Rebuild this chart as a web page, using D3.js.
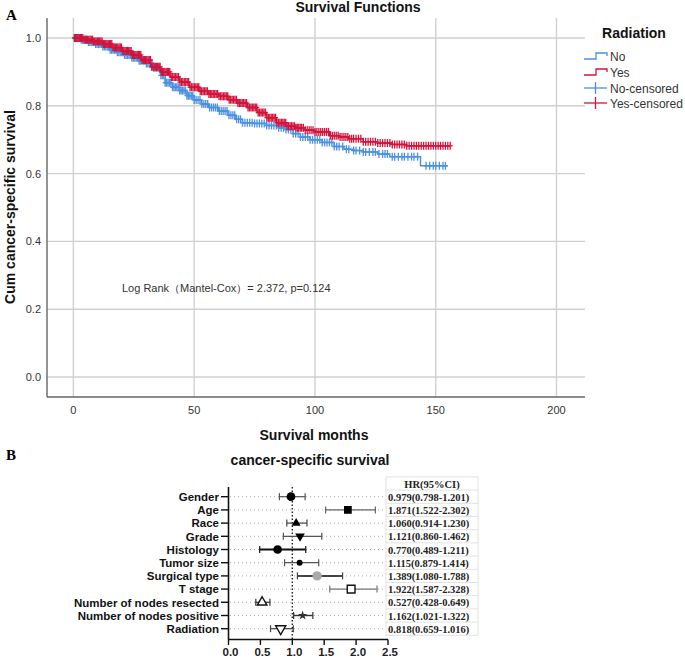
<!DOCTYPE html>
<html><head><meta charset="utf-8">
<script src="https://cdn.jsdelivr.net/npm/d3@7"></script>
<style>body{margin:0;background:#fff}svg{display:block}</style>
</head><body>
<svg id="c" width="685" height="658"></svg>
<script>
// ---------- Panel A data ----------
const xTicks = [0, 50, 100, 150, 200];
const yTicks = [0.0, 0.2, 0.4, 0.6, 0.8, 1.0];
const noTimes = [0,3,6,9,12,15,18,21,24,27,30,33,36,38,41,44,47,50,53,56,60,64,67,70,75,80,85,88,91,94,98,103,108,112,116,120,126,131,143.7];
const noSurv  = [1.0,0.995,0.988,0.982,0.975,0.965,0.958,0.950,0.942,0.933,0.925,0.912,0.890,0.868,0.855,0.845,0.830,0.817,0.805,0.795,0.785,0.772,0.760,0.750,0.748,0.742,0.735,0.730,0.718,0.708,0.700,0.692,0.680,0.672,0.668,0.664,0.658,0.650,0.623];
const noEnd = 155;
const yesTimes = [0,4,8,12,16,20,24,28,32,36,40,44,48,52,56,60,64,68,72,76,80,84,88,92,96,100,106,110,114,120,126,132,138];
const yesSurv  = [1.0,0.995,0.990,0.982,0.972,0.962,0.950,0.935,0.915,0.900,0.885,0.870,0.855,0.843,0.835,0.828,0.818,0.808,0.795,0.780,0.765,0.750,0.740,0.735,0.728,0.723,0.712,0.708,0.703,0.694,0.690,0.686,0.682];
const yesEnd = 156;
const noCensor = [0.5,1,1.5,2,2.6,3.2,3.8,4.4,5,5.6,6.2,6.8,7.4,8,8.6,9.2,9.8,10.4,11,11.6,12.2,12.8,13.4,14,14.6,15.2,15.8,16.4,17,17.6,18.2,18.8,19.4,20,20.6,21.2,21.8,22.4,23,23.6,24.2,24.8,25.4,26,26.6,27.2,27.8,28.4,29,29.6,30.2,30.8,31.4,32,32.6,33.2,33.8,34.4,35,35.6,36.2,36.8,37.4,38,38.6,39.2,39.8,40.4,41,41.6,42.2,42.8,43.4,44,44.6,45.2,45.8,46.4,47,47.6,48.2,48.8,49.4,50,50.8,51.6,52.4,53.2,54,54.8,55.6,56.4,57.2,58,58.8,59.6,60.4,61.2,62,62.8,63.6,64.4,65.2,66,66.8,67.6,68.4,69.2,70,71,72,73,74,75,76,77,78,79,80,81,82,83,84,85,86,87,88,89,90,91,92,93,94,95,96,97,98,99,100,101,102,103,104,105,106,107,108,109,110,111.5,113,114,116,117,118.5,120,121,122.5,124,125,126.5,128,129,130,132,133,134.5,136,137,138.5,140,141,142.5,146,147.5,149,150,151.5,153,154];
const yesCensor = [0.4,0.9,1.4,1.9,2.4,2.9,3.4,3.9,4.4,4.9,5.4,5.9,6.4,6.9,7.4,7.9,8.4,8.9,9.4,9.9,10.4,10.9,11.4,11.9,12.4,12.9,13.4,13.9,14.4,14.9,15.4,15.9,16.4,16.9,17.4,17.9,18.4,18.9,19.4,19.9,20.4,20.9,21.4,21.9,22.4,22.9,23.4,23.9,24.4,24.9,25.4,25.9,26.4,26.9,27.4,27.9,28.4,28.9,29.4,29.9,30.4,30.9,31.4,31.9,32.4,32.9,33.4,33.9,34.4,34.9,35.4,35.9,36.4,36.9,37.4,37.9,38.4,38.9,39.4,39.9,40.5,41.1,41.7,42.3,42.9,43.5,44.1,44.7,45.3,45.9,46.5,47.1,47.7,48.3,48.9,49.5,50.1,50.7,51.3,51.9,52.5,53.1,53.7,54.3,54.9,55.5,56.1,56.7,57.3,57.9,58.5,59.1,59.7,60.3,60.9,61.5,62.1,62.7,63.3,63.9,64.5,65.1,65.7,66.3,66.9,67.5,68.1,68.7,69.3,69.9,70.5,71.1,71.7,72.3,72.9,73.5,74.1,74.7,75.3,75.9,76.5,77.1,77.7,78.3,78.9,79.5,80.1,80.7,81.3,81.9,82.5,83.1,83.7,84.3,84.9,85.5,86.1,86.7,87.3,87.9,88.5,89.1,89.7,90.3,90.9,91.5,92.1,92.7,93.3,93.9,94.5,95.2,96,96.8,97.6,98.4,99.2,100,100.8,101.6,102.4,103.2,104,104.8,105.6,106.4,107.2,108,108.8,109.6,110.4,111.2,112,112.8,113.6,114.4,115.2,116,117,118,119,120,121,122,123,124,125,126,127,128,129,130,131,132,133,134,135,136,137,138,139,140,141,142,143,144,145,146,147,148,149,150,151,152,153,154,155,156];
const legendLabels = ["No", "Yes", "No-censored", "Yes-censored"];

// ---------- Panel B data ----------
const fLabels = ["Gender","Age","Race","Grade","Histology","Tumor size","Surgical type","T stage","Number of nodes resected","Number of nodes positive","Radiation"];
const fHR = [0.979,1.871,1.060,1.121,0.770,1.115,1.389,1.922,0.527,1.162,0.818];
const fLo = [0.798,1.522,0.914,0.860,0.489,0.879,1.080,1.587,0.428,1.021,0.659];
const fHi = [1.201,2.302,1.230,1.462,1.211,1.414,1.788,2.328,0.649,1.322,1.016];
const fText = ["0.979(0.798-1.201)","1.871(1.522-2.302)","1.060(0.914-1.230)","1.121(0.860-1.462)","0.770(0.489-1.211)","1.115(0.879-1.414)","1.389(1.080-1.788)","1.922(1.587-2.328)","0.527(0.428-0.649)","1.162(1.021-1.322)","0.818(0.659-1.016)"];
const fTicks = [0.0,0.5,1.0,1.5,2.0,2.5];

const svg = d3.select("#c");
const font = "'Liberation Sans', Arial, sans-serif";
const blue = "#4a90e2", red = "#d2143c";

// ================= Panel A =================
const x = d3.scaleLinear().domain([0,200]).range([73.4,556.5]);
const y = d3.scaleLinear().domain([0,1]).range([377,38]);
const L = 47, R = 585, T = 18, B = 397;

svg.append("text").attr("x",6).attr("y",20).text("A")
  .attr("font-family","'Liberation Serif', 'Times New Roman', serif").attr("font-weight","bold").attr("font-size",15);
svg.append("text").attr("x",358).attr("y",12).attr("text-anchor","middle").text("Survival Functions")
  .attr("font-family",font).attr("font-weight","bold").attr("font-size",14).attr("fill","#111");

const g = svg.append("g");
g.selectAll(".hg").data(yTicks).join("line").attr("x1",L).attr("x2",R)
  .attr("y1",d=>y(d)).attr("y2",d=>y(d)).attr("stroke","#d0d0d0").attr("stroke-width",1.4);
g.selectAll(".vg").data(xTicks).join("line").attr("y1",T).attr("y2",B)
  .attr("x1",d=>x(d)).attr("x2",d=>x(d)).attr("stroke","#d0d0d0").attr("stroke-width",1.4);
g.append("line").attr("x1",L).attr("x2",L).attr("y1",T).attr("y2",B).attr("stroke","#666").attr("stroke-width",1.4);
g.append("line").attr("x1",L).attr("x2",R).attr("y1",B).attr("y2",B).attr("stroke","#666").attr("stroke-width",1.4);

g.selectAll(".yl").data(yTicks).join("text").attr("x",41).attr("y",d=>y(d)+4)
  .attr("text-anchor","end").text(d=>d3.format(".1f")(d))
  .attr("font-family",font).attr("font-size",11).attr("fill","#333");
g.selectAll(".xl").data(xTicks).join("text").attr("x",d=>x(d)).attr("y",414)
  .attr("text-anchor","middle").text(d=>d)
  .attr("font-family",font).attr("font-size",11).attr("fill","#333");

svg.append("text").attr("transform","translate(15,207) rotate(-90)").attr("text-anchor","middle")
  .text("Cum cancer-specific survival").attr("font-family",font).attr("font-weight","bold").attr("font-size",14).attr("fill","#111");
svg.append("text").attr("x",314).attr("y",440).attr("text-anchor","middle")
  .text("Survival months").attr("font-family",font).attr("font-weight","bold").attr("font-size",14).attr("fill","#111");

svg.append("text").attr("x",122).attr("y",292).text("Log Rank（Mantel-Cox）= 2.372, p=0.124")
  .attr("font-family",font).attr("font-size",11).attr("fill","#333");

function survAt(times, surv, t){ const i = d3.bisectRight(times, t) - 1; return surv[Math.max(0,i)]; }
function stepData(times, surv, end){ const d = times.map((t,i)=>[t,surv[i]]); d.push([end, surv[surv.length-1]]); return d; }
const line = d3.line().x(d=>x(d[0])).y(d=>y(d[1])).curve(d3.curveStepAfter);

function drawCurve(times, surv, end, cens, col){
  g.append("path").datum(stepData(times,surv,end)).attr("d",line).attr("fill","none").attr("stroke",col).attr("stroke-width",1.5);
  const cg = g.append("g");
  cens.forEach(t=>{
    const cx = x(t), cy = y(survAt(times,surv,t));
    cg.append("line").attr("x1",cx).attr("x2",cx).attr("y1",cy-4).attr("y2",cy+4).attr("stroke",col).attr("stroke-width",1.3);
    cg.append("line").attr("x1",cx-2.5).attr("x2",cx+2.5).attr("y1",cy).attr("y2",cy).attr("stroke",col).attr("stroke-width",1.3);
  });
}
drawCurve(noTimes,noSurv,noEnd,noCensor,blue);
drawCurve(yesTimes,yesSurv,yesEnd,yesCensor,red);

// legend
svg.append("text").attr("x",634).attr("y",38).attr("text-anchor","middle").text("Radiation")
  .attr("font-family",font).attr("font-weight","bold").attr("font-size",14).attr("fill","#111");
const legY = [56,72,88,103];
const legCol = [blue, red, blue, red];
legendLabels.forEach((lab,i)=>{
  const yy = legY[i];
  if(i<2){
    svg.append("path").attr("d",`M584,${yy+3}H596V${yy-3}H607V${yy}`).attr("fill","none").attr("stroke",legCol[i]).attr("stroke-width",1.3);
  } else {
    svg.append("line").attr("x1",584).attr("x2",607).attr("y1",yy).attr("y2",yy).attr("stroke",legCol[i]).attr("stroke-width",1.3);
    svg.append("line").attr("x1",595.5).attr("x2",595.5).attr("y1",yy-6).attr("y2",yy+6).attr("stroke",legCol[i]).attr("stroke-width",1.3);
  }
  svg.append("text").attr("x",610).attr("y",yy+4.5).text(lab).attr("font-family",font).attr("font-size",12).attr("fill","#333");
});

// ================= Panel B =================
svg.append("text").attr("x",6).attr("y",460).text("B")
  .attr("font-family","'Liberation Serif', 'Times New Roman', serif").attr("font-weight","bold").attr("font-size",15);
svg.append("text").attr("x",310).attr("y",465).attr("text-anchor","middle").text("cancer-specific survival")
  .attr("font-family",font).attr("font-weight","bold").attr("font-size",14).attr("fill","#111");

const fx = d3.scaleLinear().domain([0,2.5]).range([228.5,388]);
const fy = d3.scalePoint().domain(fLabels).range([496.7,628.7]);
const fg = svg.append("g");
fg.selectAll(".rg").data(fLabels).join("line").attr("x1",230).attr("x2",385)
  .attr("y1",d=>fy(d)).attr("y2",d=>fy(d)).attr("stroke","#aaa").attr("stroke-width",1).attr("stroke-dasharray","1,3");
fg.append("line").attr("x1",fx(1)).attr("x2",fx(1)).attr("y1",487).attr("y2",639).attr("stroke","#222").attr("stroke-width",1.4).attr("stroke-dasharray","1.5,2");
fg.append("line").attr("x1",228.5).attr("x2",228.5).attr("y1",487).attr("y2",639.5).attr("stroke","#111").attr("stroke-width",1.6);
fg.append("line").attr("x1",228).attr("x2",388).attr("y1",639.5).attr("y2",639.5).attr("stroke","#111").attr("stroke-width",1.6);
fg.selectAll(".yt").data(fLabels).join("line").attr("x1",221).attr("x2",228.5)
  .attr("y1",d=>fy(d)).attr("y2",d=>fy(d)).attr("stroke","#111").attr("stroke-width",1.4);
fg.selectAll(".xt").data(fTicks).join("line").attr("x1",d=>fx(d)).attr("x2",d=>fx(d))
  .attr("y1",639.5).attr("y2",645).attr("stroke","#111").attr("stroke-width",1.4);
fg.selectAll(".xtl").data(fTicks).join("text").attr("x",d=>fx(d)+2).attr("y",655.5).attr("text-anchor","middle")
  .text(d=>d3.format(".1f")(d)).attr("font-family",font).attr("font-weight","bold").attr("font-size",11.5).attr("fill","#222");
fg.selectAll(".ytl").data(fLabels).join("text").attr("x",219).attr("y",d=>fy(d)+4.2).attr("text-anchor","end")
  .text(d=>d).attr("font-family",font).attr("font-weight","bold").attr("font-size",11.5).attr("fill","#111");

const ciCol = ["#555","#666","#444","#555","#111","#555","#444","#777","#333","#333","#444"];
const ciW = [1.2,1.4,1.2,1.2,2,1.2,2,1.4,1.2,1.4,1.2];
const mk = [
  {t:"circle",s:60,f:"#000"},{t:"square",s:60,f:"#000"},{t:"triangle",s:35,f:"#000"},{t:"tridown",s:40,f:"#000"},
  {t:"circle",s:60,f:"#000"},{t:"circle",s:28,f:"#000"},{t:"circle",s:50,f:"#aaa"},{t:"square",s:60,f:"#fff"},
  {t:"triangle",s:40,f:"#fff"},{t:"star",s:28,f:"#333"},{t:"tridown",s:45,f:"#fff"}];
fLabels.forEach((lab,i)=>{
  const yy = fy(lab);
  fg.append("line").attr("x1",fx(fLo[i])).attr("x2",fx(fHi[i])).attr("y1",yy).attr("y2",yy).attr("stroke",ciCol[i]).attr("stroke-width",ciW[i]);
  [fLo[i],fHi[i]].forEach(v=>fg.append("line").attr("x1",fx(v)).attr("x2",fx(v)).attr("y1",yy-3.5).attr("y2",yy+3.5).attr("stroke",ciCol[i]).attr("stroke-width",1.2));
  const m = mk[i];
  let sym;
  if(m.t==="circle") sym = d3.symbol().type(d3.symbolCircle).size(m.s);
  else if(m.t==="square") sym = d3.symbol().type(d3.symbolSquare).size(m.s);
  else if(m.t==="triangle"||m.t==="tridown") sym = d3.symbol().type(d3.symbolTriangle).size(m.s);
  else sym = d3.symbol().type(d3.symbolStar).size(m.s);
  fg.append("path").attr("d",sym()).attr("fill",m.f)
    .attr("stroke", m.f==="#fff" ? "#111" : (m.f==="#aaa"?"#aaa":"none")).attr("stroke-width",1.4)
    .attr("transform",`translate(${fx(fHR[i])},${yy})${m.t==="tridown"?" rotate(180)":""}`);
});

// HR table
const tx0 = 386, tx1 = 478, rowH = 13.2;
const tg = svg.append("g");
const hy = fy(fLabels[0]) - rowH;
tg.append("rect").attr("x",tx0).attr("y",hy-rowH/2).attr("width",tx1-tx0).attr("height",rowH*12).attr("fill","none").attr("stroke","#e2e2e2");
for(let k=1;k<12;k++) tg.append("line").attr("x1",tx0).attr("x2",tx1).attr("y1",hy-rowH/2+k*rowH).attr("y2",hy-rowH/2+k*rowH).attr("stroke","#e2e2e2");
tg.append("text").attr("x",(tx0+tx1)/2).attr("y",hy+4).attr("text-anchor","middle").text("HR(95%CI)")
  .attr("font-family","'Liberation Serif', 'Times New Roman', serif").attr("font-weight","bold").attr("font-size",10.5).attr("fill","#222");
tg.selectAll(".tt").data(fText).join("text").attr("x",tx0+2).attr("y",(d,i)=>fy(fLabels[i])+4)
  .text(d=>d).attr("font-family","'Liberation Serif', 'Times New Roman', serif").attr("font-weight","bold").attr("font-size",10.5).attr("fill","#222");
</script>
</body></html>
